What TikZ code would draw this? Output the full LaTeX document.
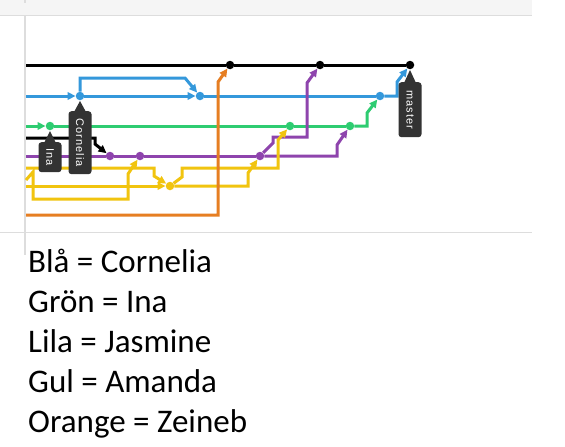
\documentclass[tikz,border=0pt]{standalone}
\usepackage{fontspec}
\setmainfont{Carlito}
\newfontfamily\tagfont[LetterSpace=10]{Liberation Sans}
\usetikzlibrary{arrows.meta}
\definecolor{gblue}{HTML}{3498DB}
\definecolor{ggreen}{HTML}{2ECC71}
\definecolor{gpurple}{HTML}{8E44AD}
\definecolor{gyellow}{HTML}{F1C40F}
\definecolor{gorange}{HTML}{E67E22}
\definecolor{tagdark}{HTML}{333333}
\definecolor{stripbg}{HTML}{F5F5F5}
\definecolor{frameline}{HTML}{DDDDDD}
\pgfdeclarelayer{bg}
\pgfsetlayers{bg,main}
\tikzset{
  dot/.style={circle,inner sep=0pt,minimum size=8.5pt,fill=#1,draw=none},
  gline/.style={line width=3pt,#1},
  arr/.style={-{Triangle[length=8pt,width=7.5pt]}},
  tagbox/.style={rotate=-90,fill=tagdark,text=white,rounded corners=3pt,
    minimum height=23pt,inner sep=0pt,font=\tagfont\fontsize{11}{12}\selectfont,anchor=west},
  legend/.style={anchor=base west,inner sep=0pt,font=\fontsize{33}{38}\selectfont}
}
\begin{document}
\begin{tikzpicture}[x=1pt,y=-1pt]
\useasboundingbox (0,0) rectangle (565,447);
% commits
\node[dot=black] (k1) at (230,65) {};
\node[dot=black] (k2) at (320,65) {};
\node[dot=black] (k3) at (410,65) {};
\node[dot=gblue] (b1) at (80,96) {};
\node[dot=gblue] (b2) at (200,96) {};
\node[dot=gblue] (b3) at (380,96) {};
\node[dot=ggreen] (g1) at (50,126) {};
\node[dot=ggreen] (g2) at (290,126) {};
\node[dot=ggreen] (g3) at (350,126) {};
\node[dot=gpurple] (p1) at (110,156) {};
\node[dot=gpurple] (p2) at (140,156) {};
\node[dot=gpurple] (p3) at (260,156) {};
\node[dot=gyellow] (y1) at (170,186) {};
% left entry points
\coordinate (kL) at (26,65);
\coordinate (bL) at (26,96);
\coordinate (gL) at (26,126);
\coordinate (xL) at (26,138);
\coordinate (pL) at (26,156);
\coordinate (yA) at (26,168);
\coordinate (yC) at (26,180);
\coordinate (yB) at (26,186);
\coordinate (oL) at (26,215);
\begin{pgfonlayer}{bg}
\fill[white] (0,0) rectangle (565,447);
% frame
\fill[stripbg] (0,0) rectangle (532,15);
\draw[frameline,line width=1.5pt] (0,15.5) -- (532,15.5);
\draw[frameline,line width=1.5pt] (0,232.5) -- (532,232.5);
\draw[frameline,line width=1.5pt] (25,16) -- (25,255);
\draw[frameline,line width=1.5pt] (25,0) -- (25,3);
% black
\draw[gline=black] (kL) -- (k1);
\draw[gline=black] (k1) -- (k2);
\draw[gline=black] (k2) -- (k3);
\draw[gline=black,arr] (xL) -- (95,138) -- (95,144) -- (p1);
% blue
\draw[gline=gblue,arr] (bL) -- (b1);
\draw[gline=gblue,arr] (b1) -- (b2);
\draw[gline=gblue] (b2) -- (b3);
\draw[gline=gblue,arr] (b1) -- (80,78) -- (185,78) -- (b2);
\draw[gline=gblue,arr] (b3) -- (397,96) -- (397,82) -- (k3);
% green
\draw[gline=ggreen,arr] (gL) -- (g1);
\draw[gline=ggreen] (g1) -- (g2);
\draw[gline=ggreen] (g2) -- (g3);
\draw[gline=ggreen,arr] (g3) -- (367,126) -- (367,113) -- (b3);
% purple
\draw[gline=gpurple] (pL) -- (p1);
\draw[gline=gpurple] (p1) -- (p2);
\draw[gline=gpurple] (p2) -- (p3);
\draw[gline=gpurple,arr] (p3) -- (337,156) -- (337,145) -- (g3);
\draw[gline=gpurple,arr] (p3) -- (273,143) -- (273,137) -- (307,137) -- (307,83) -- (k2);
% yellow
\draw[gline=gyellow,arr] (yA) -- (154,168) -- (154,176) -- (y1);
\draw[gline=gyellow,arr] (yB) -- (y1);
\draw[gline=gyellow,arr] (yC) -- (33,172) -- (33,199) -- (128,199) -- (128,174) -- (p2);
\draw[gline=gyellow,arr] (y1) -- (248,186) -- (248,173) -- (p3);
\draw[gline=gyellow,arr] (y1) -- (182,177) -- (182,168) -- (278,168) -- (278,140) -- (g2);
% orange
\draw[gline=gorange,arr] (oL) -- (218,215) -- (218,82) -- (k1);
\end{pgfonlayer}
% tags
\fill[tagdark] (50,131) -- (44,143) -- (56,143) -- cycle;
\node[tagbox,minimum width=30pt] (tIna) at (50,142) {Ina};
\fill[tagdark] (80,101) -- (74,112) -- (86,112) -- cycle;
\node[tagbox,minimum width=63pt] (tCor) at (80,111) {Cornelia};
\fill[tagdark] (410,70) -- (404,83) -- (416,83) -- cycle;
\node[tagbox,minimum width=55pt] (tMas) at (410,82) {master};
% legend
\node[legend] (l1) at (28,272) {Blå = Cornelia};
\node[legend] (l2) at (28,312) {Grön = Ina};
\node[legend] (l3) at (28,352) {Lila = Jasmine};
\node[legend] (l4) at (28,392) {Gul = Amanda};
\node[legend] (l5) at (28,432) {Orange = Zeineb};
\end{tikzpicture}
\end{document}
